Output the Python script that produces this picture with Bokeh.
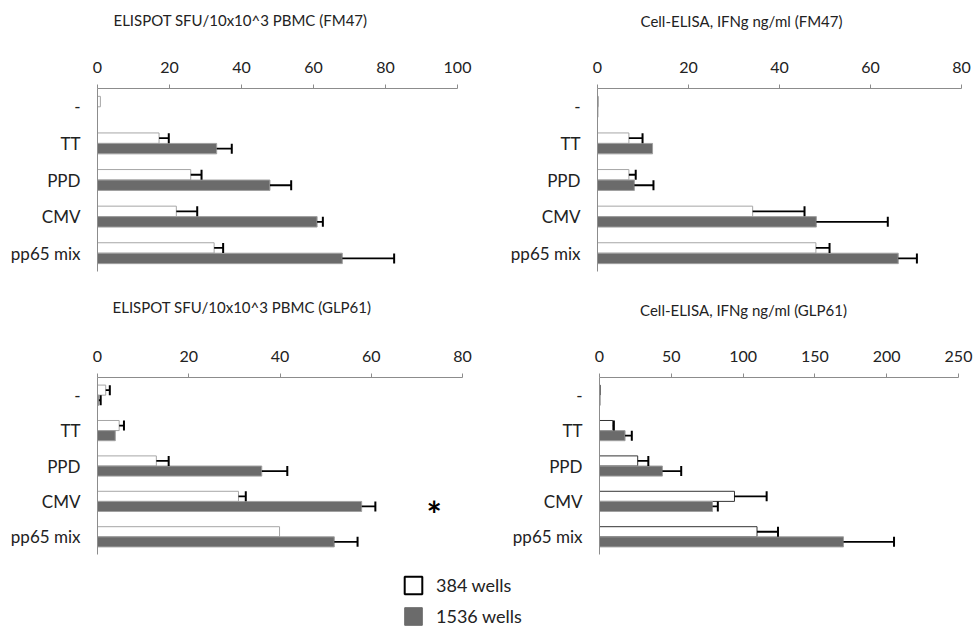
import math
from bokeh.plotting import figure
from bokeh.layouts import column, row
from bokeh.models import (ColumnDataSource, Range1d, FactorRange, SingleIntervalTicker,
                          Legend, LegendItem)
from bokeh.transform import dodge
from bokeh.core.properties import value
from bokeh.embed import file_html
from bokeh.resources import INLINE

# ---------------- data ----------------
categories = ["-", "TT", "PPD", "CMV", "pp65 mix"]
series_labels = ["384 wells", "1536 wells"]

titles = ["ELISPOT SFU/10x10^3 PBMC (FM47)", "Cell-ELISA, IFNg ng/ml (FM47)",
          "ELISPOT SFU/10x10^3 PBMC (GLP61)", "Cell-ELISA, IFNg ng/ml (GLP61)"]
x_max = [100, 80, 80, 250]
x_tick_step = [20, 20, 20, 50]

elispot_fm47_384 = [0.8, 17.1, 25.9, 21.9, 32.4]
elispot_fm47_384_err = [0, 2.7, 3.0, 5.8, 2.5]
elispot_fm47_1536 = [0, 33.1, 47.9, 61.0, 68.0]
elispot_fm47_1536_err = [0, 4.2, 5.9, 1.6, 14.4]

elisa_fm47_384 = [0.2, 6.9, 6.9, 34.1, 48.0]
elisa_fm47_384_err = [0, 3.0, 1.5, 11.4, 3.0]
elisa_fm47_1536 = [0.1, 12.1, 8.1, 48.1, 66.1]
elisa_fm47_1536_err = [0, 0, 4.2, 15.7, 4.1]

elispot_glp61_384 = [1.8, 4.75, 12.9, 30.9, 39.9]
elispot_glp61_384_err = [0.9, 1.05, 2.7, 1.6, 0]
elispot_glp61_1536 = [0.3, 3.9, 36.0, 57.9, 51.9]
elispot_glp61_1536_err = [0.4, 0, 5.6, 3.0, 5.1]

elisa_glp61_384 = [0.5, 9.3, 26.6, 94.0, 109.7]
elisa_glp61_384_err = [0, 0.7, 7.4, 22.4, 14.6]
elisa_glp61_1536 = [0.5, 17.8, 43.8, 78.7, 169.9]
elisa_glp61_1536_err = [0, 4.7, 13.1, 3.7, 35.2]

star_x = [73.8]
star_cat = ["CMV"]

# ---------------- style ----------------
FONT = "Lato"
TEXT = "#222222"
AXIS = "#8c8c8c"
GRAY = "#6b6b6b"
GRAY_EDGE = "#a0a0a0"
OFF = 0.143
BAR_H = 0.285


def title_strip(idx, width, height, left, right, standoff):
    t = figure(width=width, height=height, x_range=Range1d(0, 1), y_range=Range1d(0, 1),
               output_backend="svg", toolbar_location=None,
               x_axis_location=None, y_axis_location=None, title=titles[idx],
               min_border_left=left, min_border_right=right,
               min_border_top=0, min_border_bottom=0)
    t.outline_line_color = None
    t.grid.visible = False
    t.title.align = "center"
    t.title.vertical_align = "middle"
    t.title.standoff = standoff
    t.title.text_font = FONT
    t.title.text_font_size = "15px"
    t.title.text_font_style = "normal"
    t.title.text_color = TEXT
    return t


def make_panel(idx, v384, e384, v1536, e1536, width, height, left, right, top, bottom,
               white_edge):
    p = figure(width=width, height=height,
               y_range=FactorRange(factors=categories[::-1]),
               x_range=Range1d(0, x_max[idx]), x_axis_location="above",
               output_backend="svg", toolbar_location=None,
               min_border_left=left, min_border_right=right,
               min_border_top=top, min_border_bottom=bottom)
    p.outline_line_color = None
    p.grid.visible = False
    p.background_fill_color = "white"
    p.border_fill_color = "white"

    xa = p.xaxis[0]
    xa.ticker = SingleIntervalTicker(interval=x_tick_step[idx], num_minor_ticks=0)
    xa.axis_line_color = AXIS
    xa.major_tick_line_color = AXIS
    xa.major_tick_out = 4
    xa.major_tick_in = 0
    xa.minor_tick_line_color = None
    xa.major_label_text_font = FONT
    xa.major_label_text_font_size = "16px"
    xa.major_label_text_color = TEXT
    xa.major_label_standoff = 12

    ya = p.yaxis[0]
    ya.axis_line_color = AXIS
    ya.major_tick_line_color = None
    ya.minor_tick_line_color = None
    ya.major_tick_out = 0
    ya.major_label_text_font = FONT
    ya.major_label_text_font_size = "17px"
    ya.major_label_text_color = TEXT
    ya.major_label_standoff = 17

    src = ColumnDataSource(dict(cat=categories, v384=v384, v1536=v1536))
    p.hbar(y=dodge("cat", OFF, range=p.y_range), left=0, right="v384", height=BAR_H,
           source=src, fill_color="white", line_color=white_edge, line_width=1)
    p.hbar(y=dodge("cat", -OFF, range=p.y_range), left=0, right="v1536", height=BAR_H,
           source=src, fill_color=GRAY, line_color=GRAY_EDGE, line_width=1)

    for vals, errs, off in ((v384, e384, OFF), (v1536, e1536, -OFF)):
        keep = [i for i, e in enumerate(errs) if e > 0]
        es = ColumnDataSource(dict(cat=[categories[i] for i in keep],
                                   v=[vals[i] for i in keep],
                                   end=[vals[i] + errs[i] for i in keep]))
        yy = dodge("cat", off, range=p.y_range)
        p.segment(x0="v", y0=yy, x1="end", y1=yy, source=es,
                  line_color="black", line_width=1.8)
        p.scatter(x="end", y=yy, source=es, marker="dash", size=10, angle=math.pi / 2,
                  line_color="black", line_width=2)
    return p


t1 = title_strip(0, 490, 44, 0, 10, 18)
t2 = title_strip(1, 484, 44, 18, 0, 16)
t3 = title_strip(2, 490, 38, 0, 7, 13)
t4 = title_strip(3, 484, 38, 22, 0, 7)

p1 = make_panel(0, elispot_fm47_384, elispot_fm47_384_err, elispot_fm47_1536, elispot_fm47_1536_err,
                490, 246, 97, 33, 44, 18, "#a6a6a6")
p2 = make_panel(1, elisa_fm47_384, elisa_fm47_384_err, elisa_fm47_1536, elisa_fm47_1536_err,
                484, 246, 107, 13, 43, 19, "#a6a6a6")
p3 = make_panel(2, elispot_glp61_384, elispot_glp61_384_err, elispot_glp61_1536, elispot_glp61_1536_err,
                490, 237, 97, 28, 49, 4, "#a6a6a6")
p4 = make_panel(3, elisa_glp61_384, elisa_glp61_384_err, elisa_glp61_1536, elisa_glp61_1536_err,
                484, 237, 109, 16, 40, 11, "#333333")

star_src = ColumnDataSource(dict(x=star_x, cat=star_cat, t=["*"]))
p3.text(x="x", y=dodge("cat", -OFF, range=p3.y_range), text="t", source=star_src,
        text_font=value(FONT), text_font_size="36px", text_font_style="bold",
        text_align="center", text_baseline="middle", text_color="black", y_offset=8)

# ---------------- legend row ----------------
pl = figure(width=974, height=67, x_range=Range1d(0, 1), y_range=Range1d(0, 1),
            output_backend="svg", toolbar_location=None,
            x_axis_location=None, y_axis_location=None,
            min_border_left=0, min_border_right=0, min_border_top=0, min_border_bottom=0)
pl.outline_line_color = None
pl.grid.visible = False
# swatch renderers for the legend only (zero-size bar outside the visible range)
swatch = ColumnDataSource(dict(y=[-5], right=[0]))
rw = pl.hbar(y="y", left=0, right="right", height=0, source=swatch,
             fill_color="white", line_color="black", line_width=2)
rg = pl.hbar(y="y", left=0, right="right", height=0, source=swatch,
             fill_color=GRAY, line_color=GRAY, line_width=1)
legend = Legend(items=[LegendItem(label=series_labels[0], renderers=[rw]),
                       LegendItem(label=series_labels[1], renderers=[rg])],
                location=(402, 5), orientation="vertical",
                glyph_width=22, glyph_height=22, label_height=22, spacing=9,
                label_standoff=12, padding=0, margin=0,
                border_line_color=None, background_fill_alpha=0,
                label_text_font=FONT, label_text_font_size="18px", label_text_color=TEXT)
pl.add_layout(legend, "center")

layout = column(row(t1, t2), row(p1, p2), row(t3, t4), row(p3, p4), pl)
open("out.html", "w").write(file_html(layout, INLINE))
